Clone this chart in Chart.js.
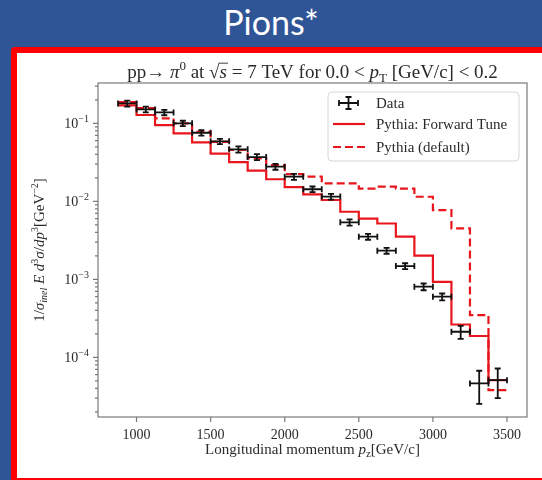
<!DOCTYPE html>
<html>
<head>
<meta charset="utf-8">
<script src="https://cdn.jsdelivr.net/npm/chart.js@4/dist/chart.umd.min.js"></script>
<style>
  html, body { margin: 0; padding: 0; }
  body { width: 542px; height: 480px; overflow: hidden; background: #2f5597; position: relative; }
  #head { position: absolute; left: 0; top: 0; width: 542px; height: 47px; color: #fff;
          font-family: Lato, "Open Sans", sans-serif; font-size: 34px; line-height: 44px; text-align: center; }
  #frame { position: absolute; left: 11px; top: 47px; width: 560px; height: 437px; box-sizing: border-box;
           border: 6px solid #ff0000; border-radius: 4px; background: #fff; }
  #wrap { position: absolute; left: 17px; top: 53px; width: 525px; height: 425px; }
</style>
</head>
<body>
<div id="head">Pions*</div>
<div id="frame"></div>
<div id="wrap"><canvas id="c" width="525" height="425"></canvas></div>
<script>
// Longitudinal momentum bins (GeV/c)
const binEdges = [875, 1000, 1125, 1250, 1375, 1500, 1625, 1750, 1875, 2000, 2125,
                  2250, 2375, 2500, 2625, 2750, 2875, 3000, 3125, 3250, 3375, 3500];
const binCenters = [937.5, 1062.5, 1187.5, 1312.5, 1437.5, 1562.5, 1687.5, 1812.5, 1937.5, 2062.5, 2187.5,
                    2312.5, 2437.5, 2562.5, 2687.5, 2812.5, 2937.5, 3062.5, 3187.5, 3312.5, 3437.5];

// Measured invariant cross section and its uncertainty
const dataValues = [0.180, 0.151, 0.138, 0.100, 0.0758, 0.0588, 0.0464, 0.0370, 0.0278, 0.0207, 0.0143,
                    0.0115, 0.00539, 0.00352, 0.00233, 0.00148, 0.000805, 0.000599, 0.000213, 0.0000464, 0.0000510];
const dataErrors = [0.016, 0.013, 0.011, 0.008, 0.006, 0.0046, 0.0042, 0.0033, 0.0024, 0.0018, 0.0012,
                    0.0010, 0.0005, 0.0003, 0.0002, 0.00013, 0.00008, 0.00006, 0.00004, 0.000021, 0.000021];

// Pythia predictions per bin
const forwardTune = [0.170, 0.128, 0.095, 0.0744, 0.057, 0.041, 0.0319, 0.0247, 0.0192, 0.0152, 0.0123,
                     0.0104, 0.00736, 0.0060, 0.0052, 0.00354, 0.00202, 0.000931, 0.000264, 0.000188, 0.0000512];
const pythiaDefault = [0.1875, 0.157, 0.116, 0.100, 0.078, 0.058, 0.0455, 0.0356, 0.0292, 0.0224, 0.0208,
                       0.0170, 0.0170, 0.0146, 0.0154, 0.0146, 0.01146, 0.00773, 0.00451, 0.000348, 0.000038];

const xTicks = [1000, 1500, 2000, 2500, 3000, 3500];
const yMajorTicks = [1e-4, 1e-3, 1e-2, 1e-1];
const yMinorTicks = [2e-5, 3e-5, 4e-5, 5e-5, 6e-5, 7e-5, 8e-5, 9e-5,
                     2e-4, 3e-4, 4e-4, 5e-4, 6e-4, 7e-4, 8e-4, 9e-4,
                     2e-3, 3e-3, 4e-3, 5e-3, 6e-3, 7e-3, 8e-3, 9e-3,
                     2e-2, 3e-2, 4e-2, 5e-2, 6e-2, 7e-2, 8e-2, 9e-2,
                     2e-1, 3e-1];
const yExponents = ['\u22124', '\u22123', '\u22122', '\u22121'];

const SERIF = '"Liberation Serif", "Times New Roman", serif';
const RED = '#e8161c';
const AXIS = '#7a7a7a';
const TEXT = '#2a2a2a';

// histogram outline: value of bin i holds from edge i to edge i+1
function stepPoints(vals) {
  return binEdges.map((e, i) => ({ x: e, y: vals[Math.min(i, vals.length - 1)] }));
}

function fontStr(p) {
  return (p.italic ? 'italic ' : '') + p.size + 'px ' + SERIF;
}
function drawRich(ctx, parts, x, y, align) {
  let w = 0;
  parts.forEach(p => { ctx.font = fontStr(p); p.w = ctx.measureText(p.t).width; w += p.w; });
  let cx = align === 'center' ? x - w / 2 : (align === 'right' ? x - w : x);
  ctx.textAlign = 'left';
  ctx.textBaseline = 'alphabetic';
  parts.forEach(p => {
    ctx.font = fontStr(p);
    ctx.fillText(p.t, cx, y + (p.dy || 0));
    if (p.over) {
      ctx.save();
      ctx.lineWidth = 0.9;
      ctx.strokeStyle = ctx.fillStyle;
      ctx.beginPath();
      ctx.moveTo(cx - 1, y - p.size * 0.78);
      ctx.lineTo(cx + p.w + 1, y - p.size * 0.78);
      ctx.stroke();
      ctx.restore();
    }
    cx += p.w;
  });
  return w;
}

const axesPlugin = {
  id: 'axesDecor',
  afterDatasetsDraw(chart) {
    const ctx = chart.ctx;
    const a = chart.chartArea;
    const xs = chart.scales.x, ys = chart.scales.y;
    ctx.save();
    // error bars of the measurement
    ctx.strokeStyle = '#111';
    ctx.lineWidth = 1.8;
    binCenters.forEach((c, i) => {
      const px = xs.getPixelForValue(c);
      const x0 = xs.getPixelForValue(binEdges[i]);
      const x1 = xs.getPixelForValue(binEdges[i + 1]);
      const py = ys.getPixelForValue(dataValues[i]);
      const y0 = ys.getPixelForValue(dataValues[i] + dataErrors[i]);
      const y1 = ys.getPixelForValue(dataValues[i] - dataErrors[i]);
      ctx.beginPath();
      ctx.moveTo(x0, py); ctx.lineTo(x1, py);
      ctx.moveTo(x0, py - 3); ctx.lineTo(x0, py + 3);
      ctx.moveTo(x1, py - 3); ctx.lineTo(x1, py + 3);
      ctx.moveTo(px, y0); ctx.lineTo(px, y1);
      ctx.moveTo(px - 3, y0); ctx.lineTo(px + 3, y0);
      ctx.moveTo(px - 3, y1); ctx.lineTo(px + 3, y1);
      ctx.stroke();
    });

    // frame
    ctx.strokeStyle = AXIS;
    ctx.lineWidth = 1.2;
    ctx.strokeRect(a.left, a.top, a.right - a.left, a.bottom - a.top);

    // x ticks
    ctx.beginPath();
    xTicks.forEach(v => {
      const px = xs.getPixelForValue(v);
      ctx.moveTo(px, a.bottom); ctx.lineTo(px, a.bottom + 5);
    });
    // y ticks
    yMajorTicks.forEach(v => {
      const py = ys.getPixelForValue(v);
      ctx.moveTo(a.left, py); ctx.lineTo(a.left - 5, py);
    });
    yMinorTicks.forEach(v => {
      const py = ys.getPixelForValue(v);
      ctx.moveTo(a.left, py); ctx.lineTo(a.left - 3, py);
    });
    ctx.stroke();

    // y tick labels
    ctx.fillStyle = TEXT;
    yMajorTicks.forEach((v, i) => {
      const py = ys.getPixelForValue(v);
      drawRich(ctx, [
        { t: '10', size: 14 },
        { t: yExponents[i], size: 10, dy: -6 }
      ], a.left - 9, py + 5, 'right');
    });

    // title
    drawRich(ctx, [
      { t: 'pp\u2192 ', size: 19 },
      { t: '\u03c0', size: 19, italic: true },
      { t: '0', size: 13, dy: -8 },
      { t: ' at \u221a', size: 19 },
      { t: 's', size: 19, italic: true, over: true },
      { t: ' = 7 TeV for 0.0 < ', size: 19 },
      { t: 'p', size: 19, italic: true },
      { t: 'T', size: 13, dy: 4 },
      { t: ' [GeV/c] < 0.2', size: 19 }
    ], (a.left + a.right) / 2, a.top - 5, 'center');

    // x axis title
    drawRich(ctx, [
      { t: 'Longitudinal momentum ', size: 15 },
      { t: 'p', size: 15, italic: true },
      { t: 'z', size: 11, dy: 3 },
      { t: '[GeV/c]', size: 15 }
    ], (a.left + a.right) / 2, a.bottom + 37, 'center');

    // y axis title
    ctx.save();
    ctx.translate(27, (a.top + a.bottom) / 2);
    ctx.rotate(-Math.PI / 2);
    drawRich(ctx, [
      { t: '1/', size: 15 },
      { t: '\u03c3', size: 15, italic: true },
      { t: 'inel', size: 10, italic: true, dy: 3 },
      { t: ' ', size: 15 },
      { t: 'E', size: 15, italic: true },
      { t: ' ', size: 15 },
      { t: 'd', size: 15, italic: true },
      { t: '3', size: 10, dy: -6 },
      { t: '\u03c3', size: 15, italic: true },
      { t: '/', size: 15 },
      { t: 'dp', size: 15, italic: true },
      { t: '3', size: 10, dy: -6 },
      { t: '[GeV', size: 15 },
      { t: '\u22122', size: 10, dy: -6 },
      { t: ']', size: 15 }
    ], 0, 0, 'center');
    ctx.restore();

    // legend
    const lx = 311, ly = 39, lw = 191, lh = 69;
    ctx.fillStyle = 'rgba(255,255,255,0.85)';
    ctx.strokeStyle = '#d6d6d6';
    ctx.lineWidth = 1;
    ctx.beginPath();
    ctx.roundRect(lx, ly, lw, lh, 4);
    ctx.fill();
    ctx.stroke();

    const rows = [50, 71, 94];
    // data symbol
    ctx.strokeStyle = '#111';
    ctx.lineWidth = 1.8;
    ctx.beginPath();
    ctx.moveTo(322, rows[0]); ctx.lineTo(341, rows[0]);
    ctx.moveTo(322, rows[0] - 3); ctx.lineTo(322, rows[0] + 3);
    ctx.moveTo(341, rows[0] - 3); ctx.lineTo(341, rows[0] + 3);
    ctx.moveTo(331.5, rows[0] - 6); ctx.lineTo(331.5, rows[0] + 6);
    ctx.moveTo(328.5, rows[0] - 6); ctx.lineTo(334.5, rows[0] - 6);
    ctx.moveTo(328.5, rows[0] + 6); ctx.lineTo(334.5, rows[0] + 6);
    ctx.stroke();
    // line samples
    ctx.strokeStyle = RED;
    ctx.lineWidth = 2.2;
    ctx.beginPath();
    ctx.moveTo(316, rows[1]); ctx.lineTo(348, rows[1]);
    ctx.stroke();
    ctx.setLineDash([8, 4]);
    ctx.beginPath();
    ctx.moveTo(316, rows[2]); ctx.lineTo(348, rows[2]);
    ctx.stroke();
    ctx.setLineDash([]);

    ctx.fillStyle = TEXT;
    chart.data.datasets.forEach((ds, i) => {
      drawRich(ctx, [{ t: ds.label, size: 15 }], 359, rows[i] + 5, 'left');
    });
    ctx.restore();
  }
};

new Chart(document.getElementById('c'), {
  type: 'scatter',
  data: {
    datasets: [
      {
        label: 'Data',
        data: binCenters.map((x, i) => ({ x: x, y: dataValues[i] })),
        pointRadius: 0,
        showLine: false
      },
      {
        label: 'Pythia: Forward Tune',
        data: stepPoints(forwardTune),
        showLine: true,
        stepped: 'before',
        borderColor: RED,
        borderWidth: 2.2,
        pointRadius: 0,
        fill: false
      },
      {
        label: 'Pythia (default)',
        data: stepPoints(pythiaDefault),
        showLine: true,
        stepped: 'before',
        borderColor: RED,
        borderWidth: 2.2,
        borderDash: [8, 4],
        pointRadius: 0,
        fill: false
      }
    ]
  },
  options: {
    responsive: false,
    animation: false,
    devicePixelRatio: 1,
    layout: { padding: { top: 30, right: 15, left: 0, bottom: 0 } },
    plugins: { legend: { display: false }, tooltip: { enabled: false }, title: { display: false } },
    scales: {
      x: {
        type: 'linear',
        min: 740,
        max: 3635,
        afterBuildTicks: s => { s.ticks = xTicks.map(v => ({ value: v })); },
        afterFit: s => { s.height = 61; },
        grid: { display: false, drawTicks: false },
        border: { display: false },
        ticks: {
          autoSkip: false, maxRotation: 0, padding: 10, color: TEXT,
          font: { family: SERIF, size: 14 },
          callback: v => String(v)
        }
      },
      y: {
        type: 'logarithmic',
        min: 1.72e-5,
        max: 0.329,
        afterFit: s => { s.width = 81; },
        grid: { display: false, drawTicks: false },
        border: { display: false },
        ticks: { display: false }
      }
    }
  },
  plugins: [axesPlugin]
});
</script>
</body>
</html>
